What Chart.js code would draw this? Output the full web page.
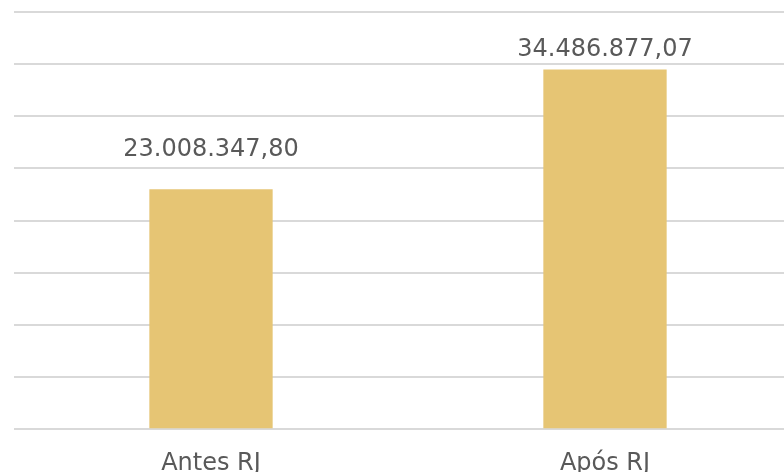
<!DOCTYPE html>
<html>
<head>
<meta charset="utf-8">
<script src="https://cdn.jsdelivr.net/npm/chart.js@4/dist/chart.umd.min.js"></script>
<style>
  html, body { margin: 0; padding: 0; background: #fff; overflow: hidden; }
  #wrap { width: 816px; height: 490px; }
</style>
</head>
<body>
<div id="wrap"><canvas id="myChart"></canvas></div>
<script>
var categories = ['Antes RJ', 'Após RJ'];
var values = [23008347.80, 34486877.07];
var valueLabels = ['23.008.347,80', '34.486.877,07'];

// text above each bar (Excel put them at different gaps)
var labelGap = [33, 14];

var barLabels = {
    id: 'barLabels',
    afterDatasetsDraw(chart) {
        var ctx = chart.ctx;
        var meta = chart.getDatasetMeta(0);
        ctx.save();
        ctx.font = '24px "DejaVu Sans"';
        ctx.fillStyle = '#595959';
        ctx.textAlign = 'center';
        ctx.textBaseline = 'alphabetic';
        meta.data.forEach(function (bar, i) {
            ctx.fillText(valueLabels[i], bar.x, bar.y - labelGap[i]);
        });
        ctx.restore();
    }
};

var ctx = document.getElementById('myChart');
new Chart(ctx, {
    type: 'bar',
    data: {
        labels: categories,
        datasets: [{
            data: values,
            backgroundColor: '#e6c574',
            borderWidth: 0,
            categoryPercentage: 1,
            barPercentage: 0.313
        }]
    },
    options: {
        responsive: true,
        maintainAspectRatio: false,
        animation: false,
        layout: { padding: { left: 14, right: 14, top: 12, bottom: 0 } },
        plugins: {
            legend: { display: false },
            tooltip: { enabled: false }
        },
        scales: {
            x: {
                grid: { display: false },
                border: { display: false },
                ticks: {
                    color: '#595959',
                    font: { family: 'DejaVu Sans', size: 24 },
                    padding: 12,
                    maxRotation: 0
                }
            },
            y: {
                min: 0,
                max: 40000000,
                ticks: { display: false, stepSize: 5000000 },
                grid: { color: '#d9d9d9', lineWidth: 2, drawTicks: false },
                border: { display: false }
            }
        }
    },
    plugins: [barLabels]
});
</script>
</body>
</html>
